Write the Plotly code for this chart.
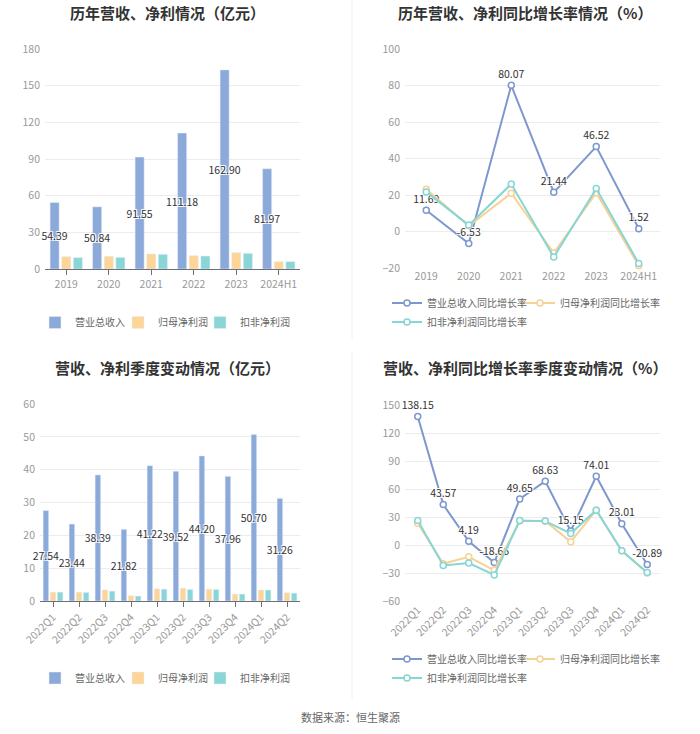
import plotly.graph_objects as go

# ---------------- data ----------------
years = ['2019', '2020', '2021', '2022', '2023', '2024H1']
rev_year = [54.39, 50.84, 91.55, 111.18, 162.90, 81.97]
np_year = [10.1, 10.4, 12.3, 10.9, 13.4, 6.0]
dnp_year = [9.3, 9.5, 12.0, 10.6, 12.8, 6.0]

rev_yoy_year = [11.69, -6.53, 80.07, 21.44, 46.52, 1.52]
np_yoy_year = [23.1, 3.1, 21.0, -11.8, 21.3, -18.8]
dnp_yoy_year = [21.7, 3.5, 26.0, -14.0, 23.5, -17.5]

quarters = ['2022Q1', '2022Q2', '2022Q3', '2022Q4', '2023Q1', '2023Q2',
            '2023Q3', '2023Q4', '2024Q1', '2024Q2']
rev_q = [27.54, 23.44, 38.39, 21.82, 41.22, 39.52, 44.20, 37.96, 50.70, 31.26]
np_q = [2.7, 2.7, 3.4, 1.6, 3.7, 3.9, 3.6, 2.1, 3.35, 2.5]
dnp_q = [2.7, 2.6, 3.0, 1.5, 3.6, 3.5, 3.5, 2.1, 3.35, 2.4]

rev_yoy_q = [138.15, 43.57, 4.19, -18.66, 49.65, 68.63, 15.15, 74.01, 23.01, -20.89]
np_yoy_q = [23.6, -20.0, -12.5, -27.0, 26.0, 25.8, 3.6, 37.6, -6.0, -30.0]
dnp_yoy_q = [26.5, -21.8, -19.3, -32.0, 26.5, 25.8, 12.5, 37.6, -6.0, -29.4]

names_bar = ['营业总收入', '归母净利润', '扣非净利润']
names_line = ['营业总收入同比增长率', '归母净利润同比增长率', '扣非净利润同比增长率']

titles = ['历年营收、净利情况（亿元）', '历年营收、净利同比增长率情况（%）',
          '营收、净利季度变动情况（亿元）', '营收、净利同比增长率季度变动情况（%）']
source_text = '数据来源：恒生聚源'

# ---------------- style ----------------
FONT = 'Noto Sans CJK SC'
bar_colors = ['#8caad9', '#fcd597', '#8ad6d6']
line_colors = ['#7d98cf', '#f9d194', '#86d6d6']
GRID = '#ececec'
AXIS = '#6e7079'
TICKC = '#999999'
LABEL = '#333333'
LSIZE = 10.5
halo = 'white 1px 1px 0px, white -1px -1px 0px, white 1px -1px 0px, white -1px 1px 0px'

W, H = 700, 734
def px(x):
    return x / W
def py(y):
    return 1 - y / H

# legend item text start x (pixels) and row centre y
bar_leg_x = [75, 158, 240]
line_leg_x = [427, 560, 427]
line_leg_row = [0, 0, 1]

fig = go.Figure()
legend_defs = {}
leg_counter = [0]

def new_legend(x, y):
    leg_counter[0] += 1
    name = 'legend' if leg_counter[0] == 1 else f'legend{leg_counter[0]}'
    legend_defs[name] = (x, y)
    return name

def add_bars(cats, series, xa, ya, leg_y):
    for i, vals in enumerate(series):
        lg = new_legend(bar_leg_x[i], leg_y)
        fig.add_trace(go.Bar(
            x=cats, y=vals, name=names_bar[i], marker_color=bar_colors[i],
            xaxis=xa, yaxis=ya, legend=lg, showlegend=True, cliponaxis=False,
            text=[f'{v:.2f}' for v in vals] if i == 0 else None,
            textposition='inside' if i == 0 else 'none',
            insidetextanchor='middle', textangle=0, constraintext='none',
            textfont=dict(color=LABEL, size=LSIZE, family=FONT, shadow=halo),
        ))

def add_lines(n, series, xa, ya, leg_rows):
    for i, vals in enumerate(series):
        lg = new_legend(line_leg_x[i], leg_rows[line_leg_row[i]])
        fig.add_trace(go.Scatter(
            x=list(range(n)), y=vals, name=names_line[i],
            mode='lines+markers+text' if i == 0 else 'lines+markers',
            text=[f'{v:.2f}' for v in vals] if i == 0 else None,
            textposition='top center', cliponaxis=False,
            textfont=dict(color=LABEL, size=LSIZE, family=FONT, shadow=halo),
            line=dict(color=line_colors[i], width=2),
            marker=dict(symbol='circle', size=6, color='white',
                        line=dict(color=line_colors[i], width=1.5)),
            xaxis=xa, yaxis=ya, legend=lg, showlegend=True,
        ))

add_bars(years, [rev_year, np_year, dnp_year], 'x', 'y', 322.5)
add_lines(len(years), [rev_yoy_year, np_yoy_year, dnp_yoy_year], 'x2', 'y2', [303, 322])
add_bars(quarters, [rev_q, np_q, dnp_q], 'x3', 'y3', 678)
add_lines(len(quarters), [rev_yoy_q, np_yoy_q, dnp_yoy_q], 'x4', 'y4', [659, 678])

tickfont = dict(color=TICKC, size=10.5, family=FONT)

dom_tl_x = [px(45), px(300)]
dom_tl_y = [py(269), py(49)]
dom_tr_x = [px(405), px(660)]
dom_tr_y = [py(268), py(49)]
dom_bl_x = [px(40), px(300)]
dom_bl_y = [py(601), py(404)]
dom_br_x = [px(405), px(660)]
dom_br_y = [py(601), py(405.5)]

yr_tr = [-20, 100]
yr_br = [-60, 150]
pos_tr = dom_tr_y[0] + (dom_tr_y[1] - dom_tr_y[0]) * (0 - yr_tr[0]) / (yr_tr[1] - yr_tr[0])
pos_br = dom_br_y[0] + (dom_br_y[1] - dom_br_y[0]) * (0 - yr_br[0]) / (yr_br[1] - yr_br[0])

def yax(dom, rng, dtick, anchor):
    return dict(domain=dom, range=rng, dtick=dtick, anchor=anchor,
                showgrid=True, gridcolor=GRID, zeroline=False, showline=False,
                tickfont=tickfont, ticks='', fixedrange=True,
                ticklabelstandoff=4, automargin=False)

def xbar(dom, anchor, angle=0):
    return dict(domain=dom, anchor=anchor, type='category', showgrid=False,
                showline=True, linecolor=AXIS, linewidth=1, ticks='outside',
                ticklen=5, tickcolor=AXIS, tickfont=tickfont, tickangle=angle,
                zeroline=False, automargin=False)

n_y = len(years)
n_q = len(quarters)

fig.update_layout(
    width=W, height=H, margin=dict(l=0, r=0, t=0, b=0, autoexpand=False),
    paper_bgcolor='white', plot_bgcolor='white', showlegend=True,
    font=dict(family=FONT, color='#666666'),
    barmode='group', bargap=0.18, bargroupgap=0.22,
    xaxis=xbar(dom_tl_x, 'y'),
    yaxis=yax(dom_tl_y, [0, 180], 30, 'x'),
    xaxis2=dict(domain=dom_tr_x, anchor='y2', range=[-0.5, n_y - 0.5],
                tickvals=list(range(n_y)), ticktext=years, showgrid=False,
                showline=False, zeroline=False, ticks='', tickfont=tickfont,
                automargin=False),
    yaxis2=yax(dom_tr_y, yr_tr, 20, 'x2'),
    xaxis3=xbar(dom_bl_x, 'y3', -45),
    yaxis3=yax(dom_bl_y, [0, 60], 10, 'x3'),
    xaxis4=dict(domain=dom_br_x, anchor='y4', range=[-0.5, n_q - 0.5],
                tickvals=list(range(n_q)), ticktext=quarters, showgrid=False,
                showline=False, zeroline=False, ticks='', tickfont=tickfont,
                tickangle=-45, automargin=False),
    yaxis4=yax(dom_br_y, yr_br, 30, 'x4'),
    xaxis5=dict(overlaying='x2', anchor='free', position=pos_tr,
                range=[-0.5, n_y - 0.5], tickvals=list(range(n_y)),
                showticklabels=False, ticks='outside', ticklen=5,
                tickcolor=AXIS, showline=True, linecolor=AXIS, showgrid=False,
                zeroline=False, automargin=False),
    xaxis6=dict(overlaying='x4', anchor='free', position=pos_br,
                range=[-0.5, n_q - 0.5], tickvals=list(range(n_q)),
                showticklabels=False, ticks='outside', ticklen=5,
                tickcolor=AXIS, showline=True, linecolor=AXIS, showgrid=False,
                zeroline=False, automargin=False),
)

legfont = dict(size=10, color='#666666', family=FONT)
for name, (tx, ty) in legend_defs.items():
    fig.update_layout({name: dict(
        x=px(tx - 40), y=py(ty), xanchor='left', yanchor='middle',
        orientation='h', font=legfont, bgcolor='rgba(0,0,0,0)',
        itemclick=False, itemdoubleclick=False, tracegroupgap=0,
        visible=True)})

# titles
title_pos = [(167, 12), (525, 12), (167, 367), (525, 367)]
for t, (tx, ty) in zip(titles, title_pos):
    fig.add_annotation(text=f'<b>{t}</b>', x=px(tx), y=py(ty), xref='paper',
                       yref='paper', showarrow=False, xanchor='center',
                       yanchor='middle',
                       font=dict(size=15, color='#333333', family=FONT))

fig.add_annotation(text=source_text, x=0.5, y=py(717), xref='paper', yref='paper',
                   showarrow=False, xanchor='center', yanchor='middle',
                   font=dict(size=11, color='#666666', family=FONT))

# faint separators
fig.add_shape(type='line', xref='paper', yref='paper', x0=px(352), x1=px(352),
              y0=py(340), y1=py(0), line=dict(color='#f2f2f2', width=1))
fig.add_shape(type='line', xref='paper', yref='paper', x0=px(352), x1=px(352),
              y0=py(700), y1=py(352), line=dict(color='#f2f2f2', width=1))

fig.write_html('out.html')
